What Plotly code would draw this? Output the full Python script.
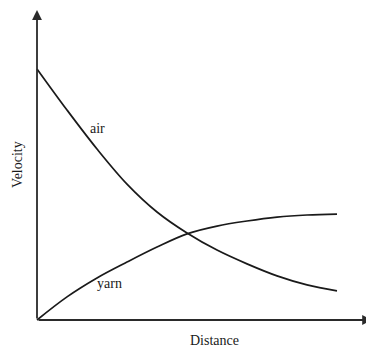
import plotly.graph_objects as go

# Data (arbitrary units)
distance = [0, 1, 2, 3, 4, 5, 6, 7, 8, 9, 10]
air_velocity = [8.37, 7.0, 5.7, 4.53, 3.6, 2.9, 2.33, 1.87, 1.47, 1.17, 0.97]
yarn_velocity = [0.0, 0.77, 1.4, 1.93, 2.43, 2.87, 3.13, 3.3, 3.43, 3.5, 3.53]

x_label = "Distance"
y_label = "Velocity"
air_label = "air"
yarn_label = "yarn"

line_col = "#1a1a1a"
font = dict(family="Liberation Serif, Times New Roman, serif", size=14, color="#1a1a1a")

fig = go.Figure()
fig.add_trace(go.Scatter(x=distance, y=air_velocity, mode="lines",
                         line=dict(color=line_col, width=1.7, shape="spline", smoothing=1.0),
                         hoverinfo="skip", showlegend=False))
fig.add_trace(go.Scatter(x=distance, y=yarn_velocity, mode="lines",
                         line=dict(color=line_col, width=1.7, shape="spline", smoothing=1.0),
                         hoverinfo="skip", showlegend=False))

# Axes with arrow heads
fig.add_annotation(x=0, y=10.33, ax=0, ay=0, xref="x", yref="y", axref="x", ayref="y",
                   text="", showarrow=True, arrowhead=2, arrowsize=1.1, arrowwidth=1.8,
                   arrowcolor="#2a2a2a")
fig.add_annotation(x=11.17, y=0, ax=0, ay=0, xref="x", yref="y", axref="x", ayref="y",
                   text="", showarrow=True, arrowhead=2, arrowsize=1.1, arrowwidth=1.8,
                   arrowcolor="#2a2a2a")

# Labels
fig.add_annotation(x=2.03, y=6.4, text=air_label, showarrow=False, font=font)
fig.add_annotation(x=2.43, y=1.23, text=yarn_label, showarrow=False, font=font)
fig.add_annotation(x=5.93, y=-0.67, text=x_label, showarrow=False, font=font)
fig.add_annotation(x=-0.67, y=5.2, text=y_label, textangle=-90, showarrow=False, font=font)

# page body has an 8px margin, so the figure is 8px smaller and ranges shifted
fig.update_layout(
    width=366, height=341,
    margin=dict(l=0, r=0, t=0, b=0),
    paper_bgcolor="white", plot_bgcolor="white",
    xaxis=dict(range=[-29/30, 337/30], visible=False, fixedrange=True),
    yaxis=dict(range=[-29/30, 312/30], visible=False, fixedrange=True),
)

fig.write_html("out.html")
